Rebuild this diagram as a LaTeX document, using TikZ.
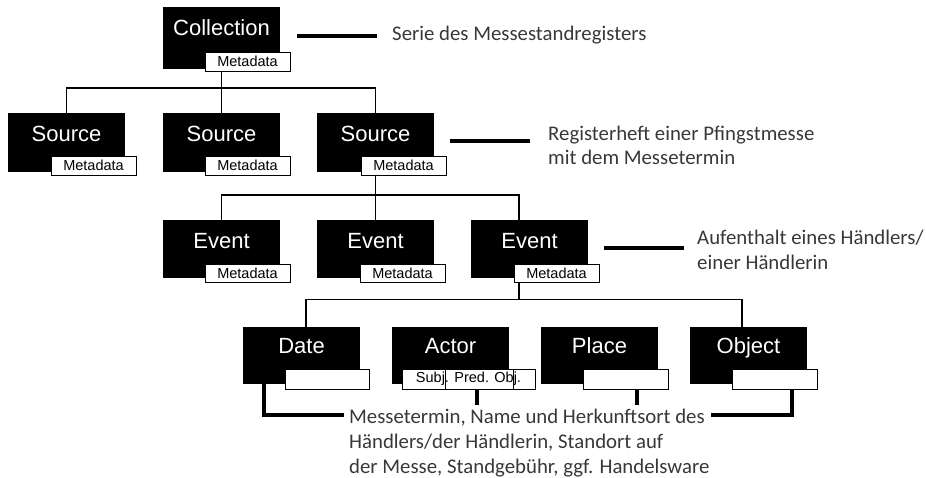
\documentclass[tikz,border=0pt]{standalone}
\usepackage{fontspec}
\setmainfont{Carlito}
\newfontfamily\arialf{Liberation Sans}
\usetikzlibrary{calc}
\begin{document}
\begin{tikzpicture}[x=1pt,y=-1pt,
  bbox/.style={fill=black,draw=none,minimum width=117pt,inner sep=0pt,outer sep=0pt,anchor=north west},
  blabel/.style={text=white,font=\arialf\fontsize{22}{26}\selectfont,anchor=base,inner sep=0pt},
  mbox/.style={fill=white,draw=black,line width=0.8pt,minimum width=85pt,minimum height=19pt,inner sep=0pt,outer sep=0pt,anchor=north west,font=\arialf\fontsize{14.5}{16}\selectfont},
  conn/.style={line width=1.5pt},
  brk/.style={line width=3.5pt},
  dsh/.style={line width=3.5pt},
  note/.style={font=\fontsize{20.8}{24}\selectfont,text=black!78,anchor=base west,inner sep=0pt}]
\useasboundingbox (0,0) rectangle (926,477);

% ---- Collection
\node[bbox,minimum height=62pt] (coll) at (163,7) {};
\node[blabel] (collL) at ($(coll.north)+(0,28)$) {Collection};
\node[mbox] (collM) at (205,52) {Metadata};

% ---- Sources
\node[bbox,minimum height=59pt] (src1) at (8,113) {};
\node[bbox,minimum height=59pt] (src2) at (163,113) {};
\node[bbox,minimum height=59pt] (src3) at (317,113) {};
\node[blabel] (src1L) at ($(src1.north)+(0,28)$) {Source};
\node[blabel] (src2L) at ($(src2.north)+(0,28)$) {Source};
\node[blabel] (src3L) at ($(src3.north)+(0,28)$) {Source};
\node[mbox] (src1M) at (51,156) {Metadata};
\node[mbox] (src2M) at (205,156) {Metadata};
\node[mbox] (src3M) at (361,156) {Metadata};

% ---- Events
\node[bbox,minimum height=58pt] (ev1) at (163,220) {};
\node[bbox,minimum height=58pt] (ev2) at (317,220) {};
\node[bbox,minimum height=58pt] (ev3) at (471,220) {};
\node[blabel] (ev1L) at ($(ev1.north)+(0,28)$) {Event};
\node[blabel] (ev2L) at ($(ev2.north)+(0,28)$) {Event};
\node[blabel] (ev3L) at ($(ev3.north)+(0,28)$) {Event};
\node[mbox,minimum height=18.5pt] (ev1M) at (205,264) {Metadata};
\node[mbox,minimum height=18.5pt] (ev2M) at (360,264) {Metadata};
\node[mbox,minimum height=18.5pt] (ev3M) at (514,264) {Metadata};

% ---- Date / Actor / Place / Object
\node[bbox,minimum height=57pt] (dat) at (243,327) {};
\node[bbox,minimum height=57pt] (act) at (392,327) {};
\node[bbox,minimum height=57pt] (plc) at (541,327) {};
\node[bbox,minimum height=57pt] (obj) at (690,327) {};
\node[blabel] (datL) at ($(dat.north)+(0,26)$) {Date};
\node[blabel] (actL) at ($(act.north)+(0,26)$) {Actor};
\node[blabel] (plcL) at ($(plc.north)+(0,26)$) {Place};
\node[blabel] (objL) at ($(obj.north)+(0,26)$) {Object};
\node[mbox,minimum width=84pt,minimum height=20pt] (datM) at (285,369) {};
\node[mbox,minimum width=133pt,minimum height=20pt] (actM) at (402,369) {Subj. Pred. Obj.};
\node[mbox,minimum height=20pt] (plcM) at (583,369) {};
\node[mbox,minimum height=20pt] (objM) at (732,369) {};
\draw[line width=0.8pt] ($(actM.north west)+(43,0)$) -- ($(actM.south west)+(43,0)$);
\draw[line width=0.8pt] ($(actM.north west)+(111,0)$) -- ($(actM.south west)+(111,0)$);

% ---- tree connectors
\coordinate (j1) at ($(coll.south)+(0,19)$);
\draw[conn] (coll.south |- collM.south) -- (src2.north);
\draw[conn] (src1.north) |- (j1) -| (src3.north);

\coordinate (j2) at ($(src3.south)+(0,23)$);
\coordinate (e3top) at ($(ev3.north west)+(48,0)$);
\draw[conn] (src3.south |- src3M.south) -- (ev2.north);
\draw[conn] (ev1.north) |- (j2) -| (e3top);

\coordinate (e3bot) at (e3top |- ev3M.south);
\coordinate (j3) at ($(e3bot)+(0,17)$);
\coordinate (dtop) at ($(dat.north west)+(63,0)$);
\coordinate (otop) at ($(obj.north west)+(52,0)$);
\draw[conn] (e3bot) -- (j3);
\draw[conn] (dtop) |- (j3) -| (otop);

% ---- notes
\node[note] (n1) at (392,40) {Serie des Messestandregisters};
\node[note] (n2a) at (548,140) {Registerheft einer Pfingstmesse};
\node[note] (n2b) at (548,164) {mit dem Messetermin};
\node[note] (n3a) at (697,244) {Aufenthalt eines Händlers/};
\node[note] (n3b) at (697,269) {einer Händlerin};
\node[note] (bt1) at (349,423) {Messetermin, Name und Herkunftsort des};
\node[note] (bt2) at (349,448) {Händlers/der Händlerin, Standort auf};
\node[note] (bt3) at (349,473) {der Messe, Standgebühr, ggf. Handelsware};

\draw[dsh] ($(n1.base west)+(-15,-4)$) -- ++(-80,0);
\draw[dsh] ($(n2a.base west)+(-18,1)$) -- ++(-80,0);
\draw[dsh] ($(n3a.base west)+(-13,4)$) -- ++(-80,0);

% ---- bottom brackets
\draw[brk] ($(dat.south west)+(21,0)$) |- ($(bt1.base west)+(-5,-8)$);
\draw[brk] ($(actM.south west)+(75,0)$) -- ++(0,16);
\draw[brk] ($(plcM.south west)+(54,0)$) -- ++(0,16);
\draw[brk] ($(bt1.base east)+(6,-8)$) -| ($(objM.south west)+(60,0)$);
\end{tikzpicture}
\end{document}
